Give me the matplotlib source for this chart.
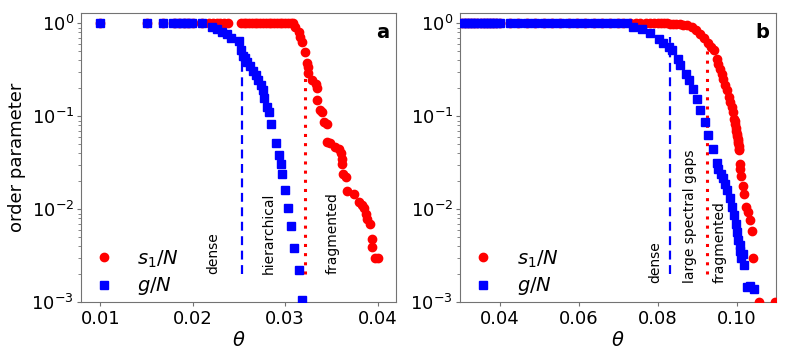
import matplotlib
matplotlib.use("Agg")
import matplotlib.pyplot as plt
import numpy as np

# ---------------- Panel a data ----------------
a_s1_theta = [0.010, 0.015, 0.0168, 0.018, 0.0185, 0.019, 0.0195, 0.020, 0.021,
              0.0218, 0.0222, 0.0226, 0.0230, 0.0234, 0.0238,
              0.0252, 0.0255, 0.0258, 0.0261, 0.0264, 0.0267, 0.0270, 0.0273, 0.0276,
              0.0279, 0.0282, 0.0285, 0.0288, 0.0291, 0.0294, 0.0297, 0.0300, 0.0303,
              0.0306, 0.0309,
              0.0311, 0.0315, 0.0316, 0.0318, 0.0322, 0.0324, 0.0325, 0.0325, 0.0329,
              0.0333, 0.0334, 0.0334, 0.0338, 0.0340, 0.0342, 0.0345, 0.0345, 0.0349,
              0.0354, 0.0358, 0.0360, 0.0362, 0.0362, 0.0363, 0.0366, 0.0367, 0.0374,
              0.0380, 0.0383, 0.0385, 0.0387, 0.0389, 0.0392, 0.0394, 0.0394, 0.0397,
              0.0401]
a_s1_value = [1.0] * 35 + [
              0.91, 0.81, 0.71, 0.63, 0.49, 0.37, 0.34, 0.29, 0.244,
              0.224, 0.20, 0.148, 0.116, 0.111, 0.087, 0.083, 0.053, 0.051,
              0.047, 0.044, 0.040, 0.035, 0.031, 0.024, 0.022, 0.0159, 0.0147,
              0.012, 0.011, 0.0102, 0.0090, 0.0079, 0.0070, 0.0048, 0.0039, 0.0030,
              0.0030]

a_g_theta = [0.0100, 0.0150, 0.0168, 0.0179, 0.0184, 0.0189, 0.0194, 0.0199, 0.0210,
             0.0221, 0.0226, 0.0232, 0.0237, 0.0241, 0.0250, 0.0252, 0.0254, 0.0257,
             0.0259, 0.0262, 0.0265, 0.0268, 0.0271, 0.0274, 0.0276, 0.0277, 0.0280,
             0.0282, 0.0285, 0.0290, 0.0293, 0.0295, 0.0297, 0.0300, 0.0303, 0.0306,
             0.0310, 0.0315, 0.0318]
a_g_value = [1.0, 1.0, 1.0, 1.0, 1.0, 1.0, 1.0, 1.0, 1.0,
             0.91, 0.86, 0.805, 0.76, 0.70, 0.64, 0.51, 0.45, 0.42,
             0.38, 0.35, 0.31, 0.275, 0.244, 0.215, 0.19, 0.157, 0.126,
             0.111, 0.083, 0.052, 0.038, 0.0305, 0.024, 0.0163, 0.0102, 0.0066,
             0.0038, 0.0022, 0.00105]

a_thresholds = [0.02533, 0.03219]
a_threshold_tops = [0.40, 0.30]
a_region_labels = ["dense", "hierarchical", "fragmented"]
a_region_theta = [0.02227, 0.02822, 0.03518]

# ---------------- Panel b data ----------------
b_flat_theta = [0.0305, 0.0312, 0.0320, 0.0328, 0.0336, 0.0344, 0.0352, 0.0360,
                0.0368, 0.0376, 0.0384, 0.0392, 0.0402, 0.0427, 0.0448, 0.0469,
                0.0491, 0.0512, 0.0533, 0.0554, 0.0575, 0.0596, 0.0617, 0.0638,
                0.0659, 0.0680, 0.0701, 0.0723]

b_g_theta = b_flat_theta + [
             0.0739, 0.0761, 0.0782, 0.0803, 0.0815, 0.0828, 0.0836, 0.0851,
             0.0857, 0.0872, 0.0880, 0.0891, 0.0900, 0.0908, 0.0921, 0.0927,
             0.0940, 0.0950, 0.0954, 0.0960, 0.0966, 0.0971, 0.0977, 0.0984,
             0.0988, 0.0994, 0.0998, 0.1001, 0.1005, 0.1009, 0.1008, 0.1016,
             0.1011, 0.1020, 0.1026, 0.1035, 0.1045]
b_g_value = [1.0] * 28 + [
             0.91, 0.875, 0.79, 0.68, 0.62, 0.556, 0.51, 0.416,
             0.353, 0.287, 0.244, 0.195, 0.152, 0.116, 0.087, 0.0625,
             0.045, 0.0318, 0.0273, 0.0242, 0.0217, 0.0187, 0.0161, 0.0131,
             0.0106, 0.0086, 0.0070, 0.0057, 0.0047, 0.0041, 0.0036, 0.0033,
             0.0030, 0.0025, 0.00146, 0.00151, 0.00139]

b_s1_theta = b_flat_theta[:-1] + [
              0.0712, 0.0730, 0.0745, 0.0756, 0.0770, 0.0782, 0.0792, 0.0800,
              0.0808, 0.0816, 0.0824, 0.0832, 0.0840, 0.0848, 0.0856, 0.0864,
              0.0874, 0.0887, 0.0898, 0.0908, 0.0918, 0.0927, 0.0935, 0.0942,
              0.0950, 0.0953, 0.0959, 0.0963, 0.0967, 0.0971, 0.0976, 0.0980,
              0.0984, 0.0988, 0.0991, 0.0994, 0.0996, 0.0997, 0.0998, 0.0999,
              0.1001, 0.1002, 0.1003, 0.1004, 0.1005, 0.1006, 0.1007, 0.1007,
              0.1008, 0.1009, 0.1011, 0.1016, 0.1019, 0.1025, 0.1030, 0.1035,
              0.1039, 0.1043, 0.1056, 0.1098]
b_s1_value = [1.0] * 27 + [
              1.0, 1.0, 1.0, 1.0, 1.0, 1.0, 1.0, 1.0,
              1.0, 1.0, 0.995, 0.99, 0.985, 0.98, 0.975, 0.965,
              0.95, 0.91, 0.84, 0.77, 0.695, 0.62, 0.56, 0.51,
              0.416, 0.368, 0.325, 0.287, 0.254, 0.219, 0.19, 0.161,
              0.142, 0.126, 0.111, 0.094, 0.088, 0.083, 0.074, 0.070,
              0.065, 0.061, 0.057, 0.054, 0.051, 0.048, 0.045, 0.043,
              0.031, 0.027, 0.023, 0.018, 0.0147, 0.0106, 0.0094, 0.0077,
              0.0059, 0.0030, 0.0010, 0.0010]

b_thresholds = [0.0832, 0.0925]
b_threshold_tops = [0.71, 0.53]
b_region_labels = ["dense", "large spectral gaps", "fragmented"]
b_region_theta = [0.07942, 0.08828, 0.09562]

# ---------------- Figure ----------------
fig = plt.figure(figsize=(7.89, 3.59), dpi=100)
axA = fig.add_axes([81/789, 1 - 302.3/359, 315/789, 289/359])
axB = fig.add_axes([460/789, 1 - 302.3/359, 316/789, 289/359])

spine_col = "0.45"


def setup(ax, s1x, s1y, gx, gy, thr, tops, labels, ltheta, lbottom, xlim, xticks, panel):
    ax.set_yscale("log")
    ax.plot(s1x, s1y, "o", color="red", ms=6, label="$s_1/N$", zorder=3)
    ax.plot(gx, gy, "s", color="blue", ms=5.2, label="$g/N$", zorder=4)
    ax.vlines(thr[0], 0.002, tops[0], colors="blue", linestyles=(0, (4, 2.5)), lw=1.6, zorder=2)
    ax.vlines(thr[1], 0.002, tops[1], colors="red", linestyles=(0, (1, 2)), lw=2.2, zorder=2)
    for lab, t in zip(labels, ltheta):
        ax.text(t, lbottom, lab, rotation=90, ha="center", va="bottom", fontsize=10)
    ax.set_xlim(*xlim)
    ax.set_ylim(1e-3, 1.28)
    ax.set_xticks(xticks)
    ax.set_yticks([1e-3, 1e-2, 1e-1, 1e0])
    ax.set_xlabel(r"$\theta$", fontsize=14, labelpad=2)
    ax.tick_params(axis="x", which="major", labelsize=13, color=spine_col, length=3, pad=2.5)
    ax.tick_params(axis="y", which="major", labelsize=13, color=spine_col, length=3, pad=2)
    ax.tick_params(axis="y", which="minor", color=spine_col, length=2)
    for sp in ax.spines.values():
        sp.set_color(spine_col)
    ax.text(0.978, 0.965, panel, transform=ax.transAxes, ha="right", va="top",
            fontsize=14, fontweight="bold")
    ax.legend(loc="lower left", bbox_to_anchor=(0.025, -0.01), frameon=False,
              fontsize=14, handlelength=0.8, handletextpad=1.3,
              labelspacing=0.3, borderpad=0.4, borderaxespad=0)


setup(axA, a_s1_theta, a_s1_value, a_g_theta, a_g_value, a_thresholds, a_threshold_tops,
      a_region_labels, a_region_theta, 0.002, (0.0079, 0.0420),
      [0.01, 0.02, 0.03, 0.04], "a")
axA.set_xticklabels(["0.01", "0.02", "0.03", "0.04"])
axA.set_ylabel("order parameter", fontsize=13)
axA.yaxis.set_label_coords(-0.175, 0.5)

setup(axB, b_s1_theta, b_s1_value, b_g_theta, b_g_value, b_thresholds, b_threshold_tops,
      b_region_labels, b_region_theta, 0.0016, (0.030, 0.110),
      [0.04, 0.06, 0.08, 0.10], "b")
axB.set_xticklabels(["0.04", "0.06", "0.08", "0.10"])

fig.savefig("out.png", dpi=100)
